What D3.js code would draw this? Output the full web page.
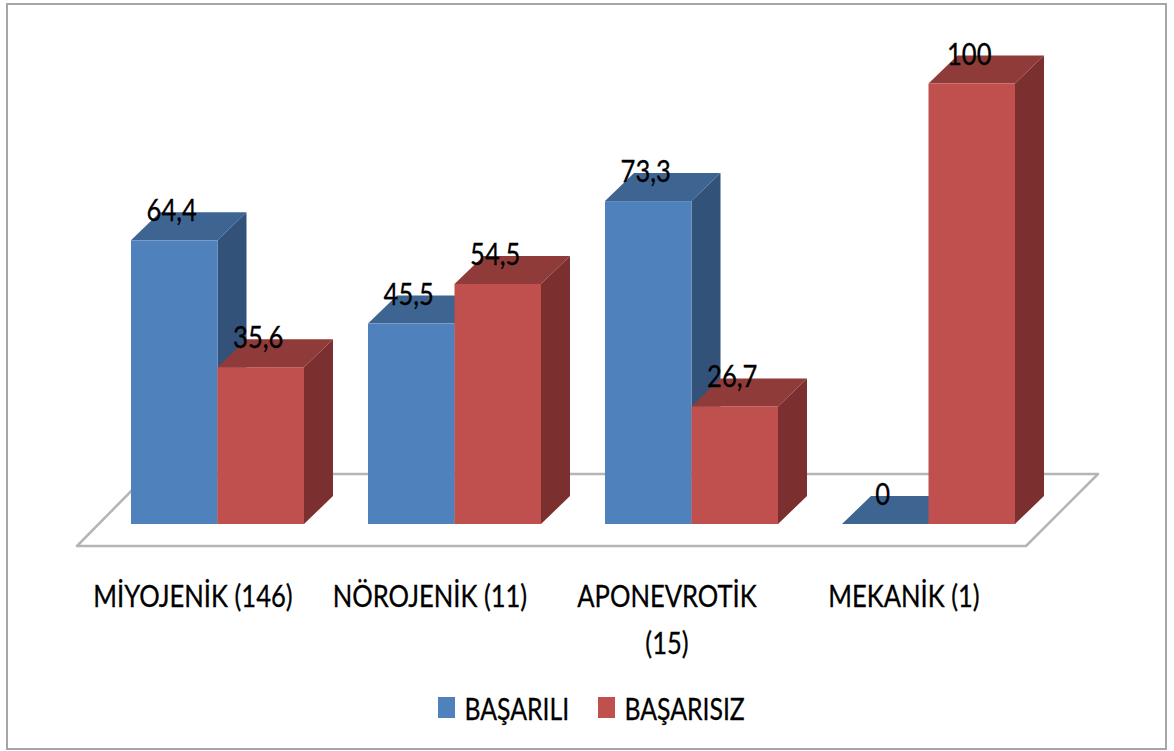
<!DOCTYPE html>
<html>
<head>
  <title>BAŞARILI / BAŞARISIZ</title>
  <script src="https://d3js.org/d3.v7.min.js"></script>
  <style>
    html, body { margin: 0; padding: 0; background: #fff; }
    svg { display: block; }
    text { font-family: Lato, "Noto Sans", sans-serif; fill: #000; stroke: #000; stroke-width: 0.3px; }
  </style>
</head>
<body>
  <div id="chart"></div>
  <script>
    // data
    const categories = ['MİYOJENİK (146)', 'NÖROJENİK (11)', 'APONEVROTİK (15)', 'MEKANİK (1)'];
    const seriesNames = ['BAŞARILI', 'BAŞARISIZ'];
    const basarili = [64.4, 45.5, 73.3, 0];
    const basarisiz = [35.6, 54.5, 26.7, 100];
    const valueLabels = [['64,4', '45,5', '73,3', '0'], ['35,6', '54,5', '26,7', '100']];

    const front = ['#4F81BD', '#C0504D'];
    const topFace = ['#3E6592', '#8F3B39'];
    const sideFace = ['#32527A', '#7B2F2E'];

    const width = 1174, height = 751;
    const depthX = 29, depthY = 28;
    const squeeze = 0.825;
    const legendSqueeze = 0.8;
    const fontSize = 31;

    const svg = d3.select('#chart').append('svg')
      .attr('width', width)
      .attr('height', height);

    // outer frame
    svg.append('rect')
      .attr('x', 7).attr('y', 4)
      .attr('width', 1159).attr('height', 745)
      .attr('fill', '#fff')
      .attr('stroke', '#a6a6a6')
      .attr('stroke-width', 2);

    const x = d3.scaleBand()
      .domain(categories)
      .range([99, 1047])
      .paddingInner(64 / 237)
      .paddingOuter(32 / 237);

    const xInner = d3.scaleBand()
      .domain([0, 1])
      .range([0, x.bandwidth()]);

    const y = d3.scaleLinear()
      .domain([0, 100])
      .range([524, 83.5]);

    // floor of the 3d plot
    const floorFront = y(0) + 22, floorBack = y(0) - 50;
    svg.append('path')
      .attr('d', `M77,${floorFront}L1026,${floorFront}L1098,${floorBack}L148,${floorBack}Z`)
      .attr('fill', '#fff')
      .attr('stroke', '#b5b5b5')
      .attr('stroke-width', 2.5)
      .attr('stroke-linejoin', 'round');

    // flat list of bars, left to right
    const bars = [];
    categories.forEach((c, i) => {
      bars.push({ c: c, s: 0, v: basarili[i], label: valueLabels[0][i] });
      bars.push({ c: c, s: 1, v: basarisiz[i], label: valueLabels[1][i] });
    });
    const left = d => x(d.c) + xInner(d.s);
    const right = d => left(d) + xInner.bandwidth();

    // draw back bars first so that the front faces cover the sides
    const barG = svg.selectAll('.bar')
      .data(bars)
      .enter()
      .append('g')
      .attr('class', 'bar');

    barG.append('path')
      .attr('d', d => `M${right(d)},${y(d.v)}L${right(d) + depthX},${y(d.v) - depthY}L${right(d) + depthX},${y(0) - depthY}L${right(d)},${y(0)}Z`)
      .attr('fill', d => sideFace[d.s]);

    barG.append('path')
      .attr('d', d => `M${left(d)},${y(d.v)}L${left(d) + depthX},${y(d.v) - depthY}L${right(d) + depthX},${y(d.v) - depthY}L${right(d)},${y(d.v)}Z`)
      .attr('fill', d => topFace[d.s]);

    barG.append('rect')
      .attr('x', left)
      .attr('y', d => y(d.v))
      .attr('width', xInner.bandwidth())
      .attr('height', d => y(0) - y(d.v))
      .attr('fill', d => front[d.s]);

    // value labels on top of everything
    svg.selectAll('.value')
      .data(bars)
      .enter()
      .append('text')
      .attr('class', 'value')
      .attr('transform', d => `translate(${(left(d) + right(d)) / 2 - 2.5},${y(d.v) - 19}) scale(${squeeze},1)`)
      .attr('text-anchor', 'middle')
      .style('font-size', fontSize + 'px')
      .text(d => d.label);

    // category axis, shifted back by the depth offset
    const axisG = svg.append('g')
      .attr('transform', 'translate(-24.5,' + 607 + ')')
      .call(d3.axisBottom(x).tickSize(0).tickPadding(0));
    axisG.select('.domain').remove();
    axisG.selectAll('.tick text')
      .style('font-size', fontSize + 'px')
      .style('font-family', 'Lato, "Noto Sans", sans-serif')
      .attr('fill', '#000')
      .attr('y', 0)
      .attr('dy', 0)
      .attr('transform', `scale(${squeeze},1)`)
      .each(function (d) {
        // only the long label wraps
        if (d.length < 16) return;
        const parts = d.split(' ');
        const t = d3.select(this).text(null);
        parts.forEach((p, i) => {
          t.append('tspan').attr('x', 0).attr('dy', i ? 47 : 0).text(p);
        });
      });

    // legend
    const legendX = d3.scaleOrdinal().domain(seriesNames).range([438, 598]);
    const legend = svg.selectAll('.legend')
      .data(seriesNames)
      .enter()
      .append('g')
      .attr('class', 'legend')
      .attr('transform', d => `translate(${legendX(d)},697)`);
    legend.append('rect')
      .attr('width', 17)
      .attr('height', 21)
      .attr('fill', (d, i) => front[i]);
    legend.append('text')
      .attr('transform', `translate(26.5,23) scale(${legendSqueeze},1)`)
      .style('font-size', fontSize + 'px')
      .text(d => d);
  </script>
</body>
</html>
